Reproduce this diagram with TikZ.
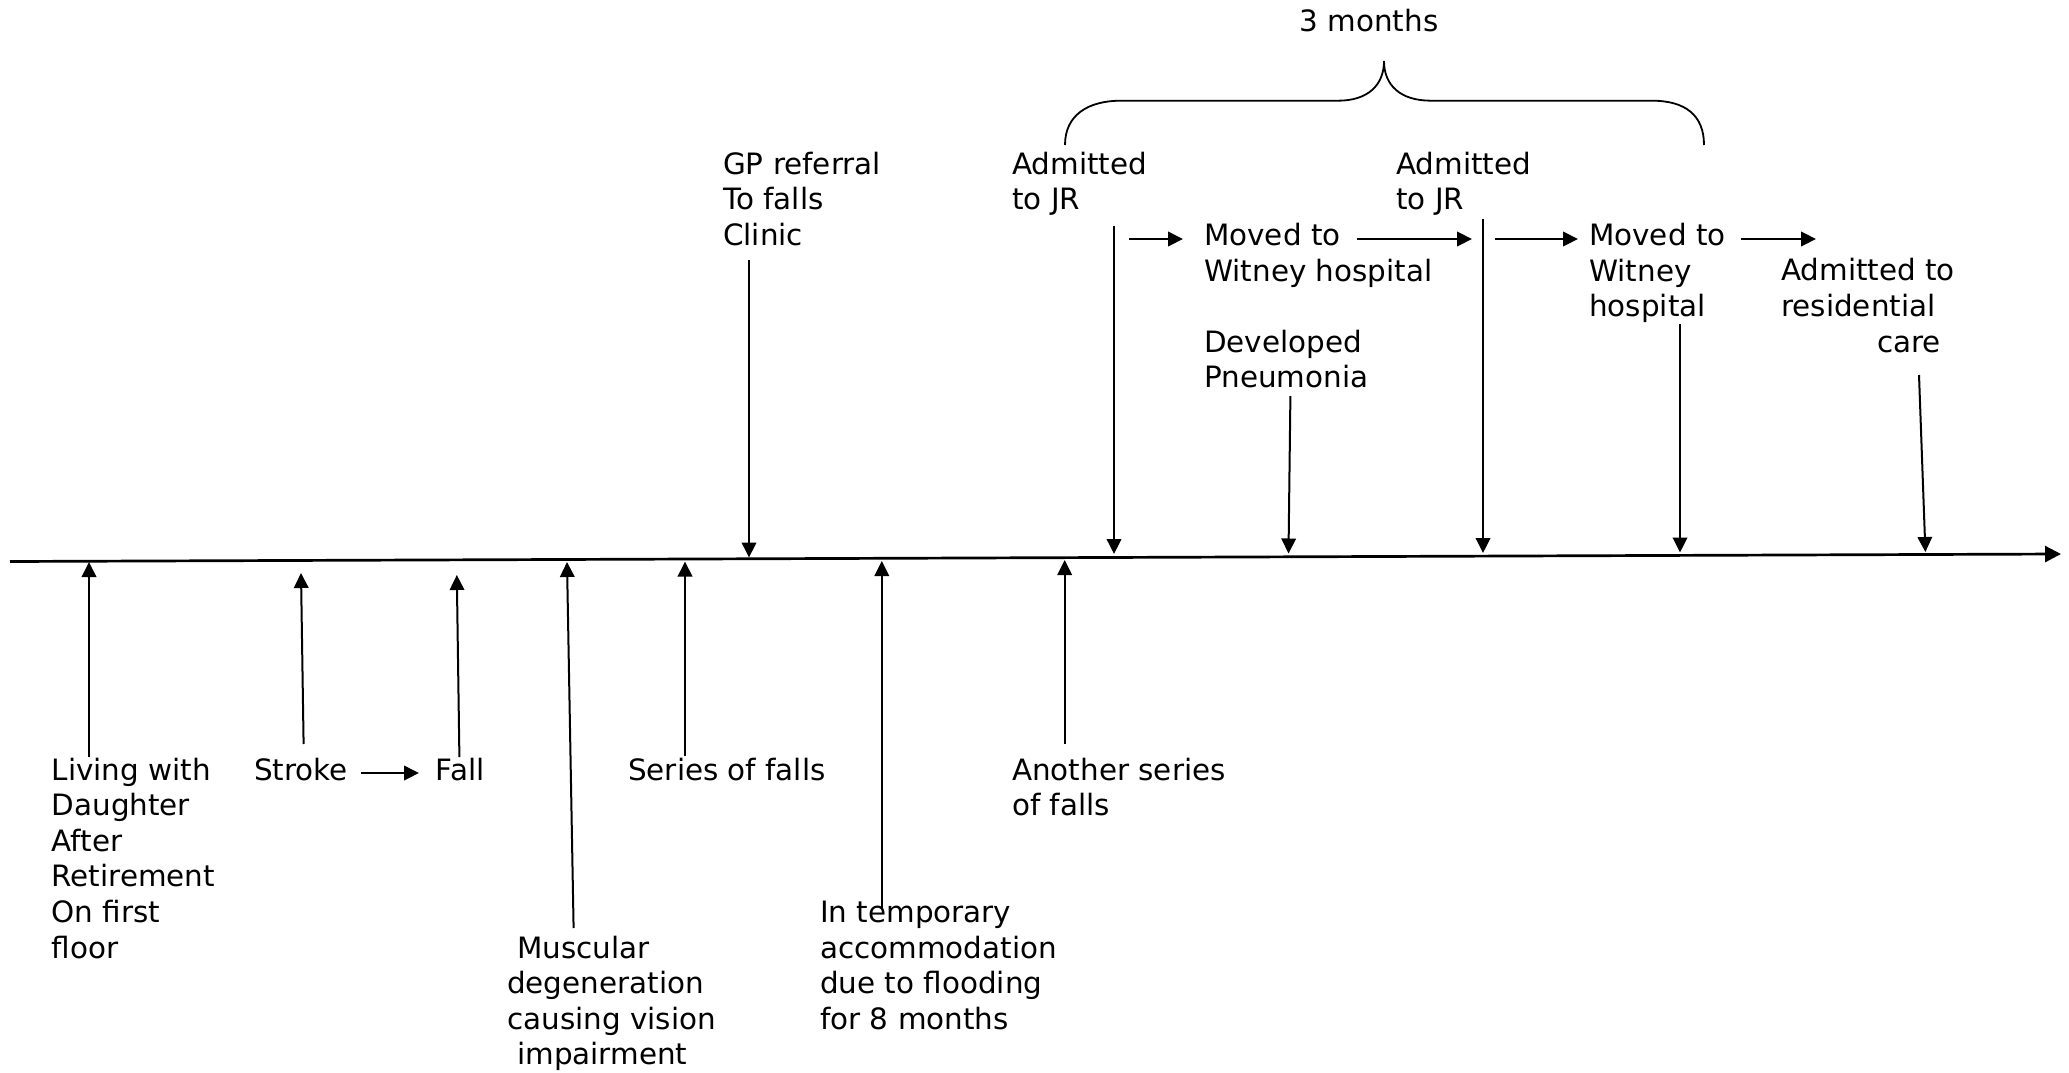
\documentclass[tikz,border=0pt]{standalone}
\usepackage{fontspec}
\setmainfont{DejaVu Sans}
\usetikzlibrary{arrows.meta}
\newcommand\lbfont{\fontsize{29.4}{35.6}\selectfont}
\tikzset{
  lbl/.style={anchor=north west, inner sep=0pt, align=left, font=\lbfont},
  evarrow/.style={line width=2pt, -{Triangle[length=15pt,width=14.5pt]}},
  axis/.style={line width=2.7pt, -{Triangle[length=16pt,width=16pt]}},
  bracestyle/.style={line width=1.8pt}
}
\begin{document}
\begin{tikzpicture}[x=1pt,y=-1pt]
\useasboundingbox (0,0) rectangle (2069,1073);
% baseline - 24.92 = north
% ---- upper labels
\node[lbl] (gp) at (723,149.1) {\strut GP referral\\To falls\\Clinic};
\node[lbl] (adma) at (1012,149.1) {\strut Admitted\\to JR};
\node[lbl] (admb) at (1396,149.1) {\strut Admitted\\to JR};
\node[lbl] (mova) at (1204,220.6) {\strut Moved to\\Witney hospital};
\node[lbl] (pneu) at (1204,327.1) {\strut Developed\\Pneumonia};
\node[lbl] (movb) at (1589,220.6) {\strut Moved to\\Witney\\hospital};
\node[lbl] (res) at (1781,255.7) {\strut Admitted to\\residential\\\hspace*{96pt}care};
\node[anchor=base, inner sep=0pt, font=\lbfont] (months) at (1369,31.7) {3 months};
% ---- lower labels
\node[lbl] (living) at (51.5,754.9) {\strut Living with\\Daughter\\After\\Retirement\\On first\\floor};
\node[lbl] (stroke) at (254,754.9) {\strut Stroke};
\node[lbl] (fall) at (435.6,754.9) {\strut Fall};
\node[lbl] (series) at (628,754.9) {\strut Series of falls};
\node[lbl] (another) at (1012,754.9) {\strut Another series\\of falls};
\node[lbl] (temp) at (820,897.3) {\strut In temporary\\accommodation\\due to flooding\\for 8 months};
\node[lbl] (musc) at (507,932.9) {\strut\hspace*{10pt}Muscular\\degeneration\\causing vision\\\hspace*{10pt}impairment};
% ---- timeline
\coordinate (tl0) at (10,561.5);
\coordinate (tl1) at (2061,554);
\draw[axis] (tl0) -- (tl1);
% ---- coordinates of arrow ends
\coordinate (livS) at (89,757);      \coordinate (livT) at (89,562);
\coordinate (strS) at (303.6,744);   \coordinate (strT) at (301,573);
\coordinate (falS) at (459.4,757);   \coordinate (falT) at (456.8,575);
\coordinate (musS) at (573.6,928);   \coordinate (musT) at (567,562);
\coordinate (serS) at (685,756);     \coordinate (serT) at (685,561.5);
\coordinate (temS) at (881.8,908);   \coordinate (temT) at (881.8,561);
\coordinate (anoS) at (1064.7,744);  \coordinate (anoT) at (1064.7,560);
\coordinate (gpS) at (749,260);      \coordinate (gpT) at (749,557.5);
\coordinate (adaS) at (1114,226);    \coordinate (adaT) at (1114,554);
\coordinate (pneS) at (1290.4,396);  \coordinate (pneT) at (1288.5,553.5);
\coordinate (adbS) at (1483,219);    \coordinate (adbT) at (1483,553);
\coordinate (mvbS) at (1680,324);    \coordinate (mvbT) at (1680,552.5);
\coordinate (resS) at (1919,375);    \coordinate (resT) at (1925.4,552);
% ---- vertical arrows
\draw[evarrow] (livS) -- (livT);
\draw[evarrow] (strS) -- (strT);
\draw[evarrow] (falS) -- (falT);
\draw[evarrow] (musS) -- (musT);
\draw[evarrow] (serS) -- (serT);
\draw[evarrow] (temS) -- (temT);
\draw[evarrow] (anoS) -- (anoT);
\draw[evarrow] (gpS) -- (gpT);
\draw[evarrow] (adaS) -- (adaT);
\draw[evarrow] (pneS) -- (pneT);
\draw[evarrow] (adbS) -- (adbT);
\draw[evarrow] (mvbS) -- (mvbT);
\draw[evarrow] (resS) -- (resT);
% ---- horizontal arrows
\coordinate (h1a) at (1129,239); \coordinate (h1b) at (1183,239);
\coordinate (h2a) at (1357,239); \coordinate (h2b) at (1472,239);
\coordinate (h3a) at (1495,239); \coordinate (h3b) at (1578,239);
\coordinate (h4a) at (1741,239); \coordinate (h4b) at (1816,239);
\coordinate (sfa) at (361,773);  \coordinate (sfb) at (419,773);
\draw[evarrow] (h1a) -- (h1b);
\draw[evarrow] (h2a) -- (h2b);
\draw[evarrow] (h3a) -- (h3b);
\draw[evarrow] (h4a) -- (h4b);
\draw[evarrow] (sfa) -- (sfb);
% ---- brace
\coordinate (brL) at (1065,145);
\coordinate (brT) at (1384,61);
\coordinate (brR) at (1704,145);
\draw[bracestyle] (brL) .. controls (1065,115) and (1088,100.7) .. (1121,100.7)
  -- (1338,100.7) .. controls (1368,100.7) and (1384,85) .. (brT)
  .. controls (1384,85) and (1400,100.7) .. (1431,100.7)
  -- (1652,100.7) .. controls (1685,100.7) and (1704,115) .. (brR);
\end{tikzpicture}
\end{document}
